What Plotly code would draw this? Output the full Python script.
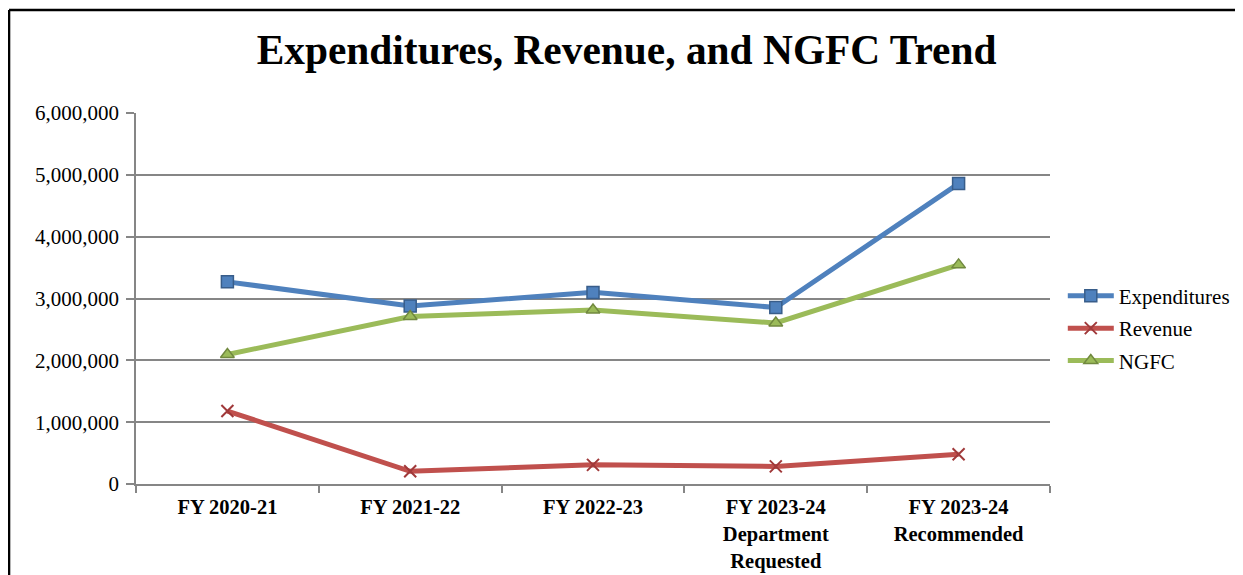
import plotly.graph_objects as go

categories = ["FY 2020-21", "FY 2021-22", "FY 2022-23",
              "FY 2023-24<br>Department<br>Requested", "FY 2023-24<br>Recommended"]
expenditures = [3270000, 2880000, 3100000, 2855000, 4860000]
revenue = [1180000, 205000, 310000, 285000, 480000]
ngfc = [2095000, 2710000, 2815000, 2605000, 3545000]
y_ticks = [0, 1000000, 2000000, 3000000, 4000000, 5000000, 6000000]

fig = go.Figure()
fig.add_trace(go.Scatter(
    x=categories, y=expenditures, name="Expenditures", mode="lines+markers", legendgroup="a",
    line=dict(color="#4F81BD", width=5),
    marker=dict(symbol="square", size=12, color="#4F81BD", line=dict(color="#385D8A", width=1.5))))
fig.add_trace(go.Scatter(
    x=categories, y=revenue, name="Revenue", mode="lines+markers", legendgroup="b",
    line=dict(color="#C0504D", width=5),
    marker=dict(symbol="x-thin", size=12, color="#A0393A", line=dict(color="#A0393A", width=2))))
fig.add_trace(go.Scatter(
    x=categories, y=ngfc, name="NGFC", mode="lines+markers", legendgroup="c",
    line=dict(color="#9BBB59", width=5),
    marker=dict(symbol="triangle-up", size=12, color="#9BBB59", line=dict(color="#71893F", width=1.5))))

serif = "Liberation Serif, Times New Roman, serif"
fig.update_layout(
    width=1260, height=590,
    margin=dict(l=128, r=218, t=105, b=114, autoexpand=False),
    paper_bgcolor="white", plot_bgcolor="white",
    title=dict(text="<b>Expenditures, Revenue, and NGFC Trend</b>",
               font=dict(family=serif, size=41.4, color="black"),
               x=0.4909, xanchor="center", xref="container", y=0.9288, yanchor="middle"),
    font=dict(family=serif, color="black"),
    legend=dict(x=1.014, xanchor="left", y=0.42, yanchor="middle",
                font=dict(family=serif, size=21, color="black"),
                tracegroupgap=2, itemwidth=46, bgcolor="rgba(0,0,0,0)"),
    xaxis=dict(type="category", range=[-0.5, 4.5], showline=True, linecolor="#868686", linewidth=1.5,
               ticks="outside", tickson="boundaries", ticklen=7, tickcolor="#868686", tickwidth=1.5,
               showgrid=False, ticklabelstandoff=4, automargin=False,
               tickfont=dict(family=serif, size=20.5, color="black", weight="bold")),
    yaxis=dict(range=[0, 6002000], tickvals=y_ticks, tickformat=",d",
               showline=True, linecolor="#868686", linewidth=1.5,
               ticks="outside", ticklen=8, tickcolor="#868686", tickwidth=1.5,
               showgrid=True, gridcolor="#868686", gridwidth=1.5, zeroline=False,
               ticklabelstandoff=3, automargin=False,
               tickfont=dict(family=serif, size=21, color="black")),
    shapes=[
        dict(type="line", xref="paper", yref="paper", x0=-0.1389, x1=-0.1389, y0=1.2776, y1=-0.4,
             line=dict(color="black", width=2.5)),
        dict(type="line", xref="paper", yref="paper", x0=-0.1389, x1=1.3, y0=1.2776, y1=1.2776,
             line=dict(color="black", width=2.5)),
    ],
)

fig.update_xaxes(tickangle=0)
fig.write_html("out.html")
